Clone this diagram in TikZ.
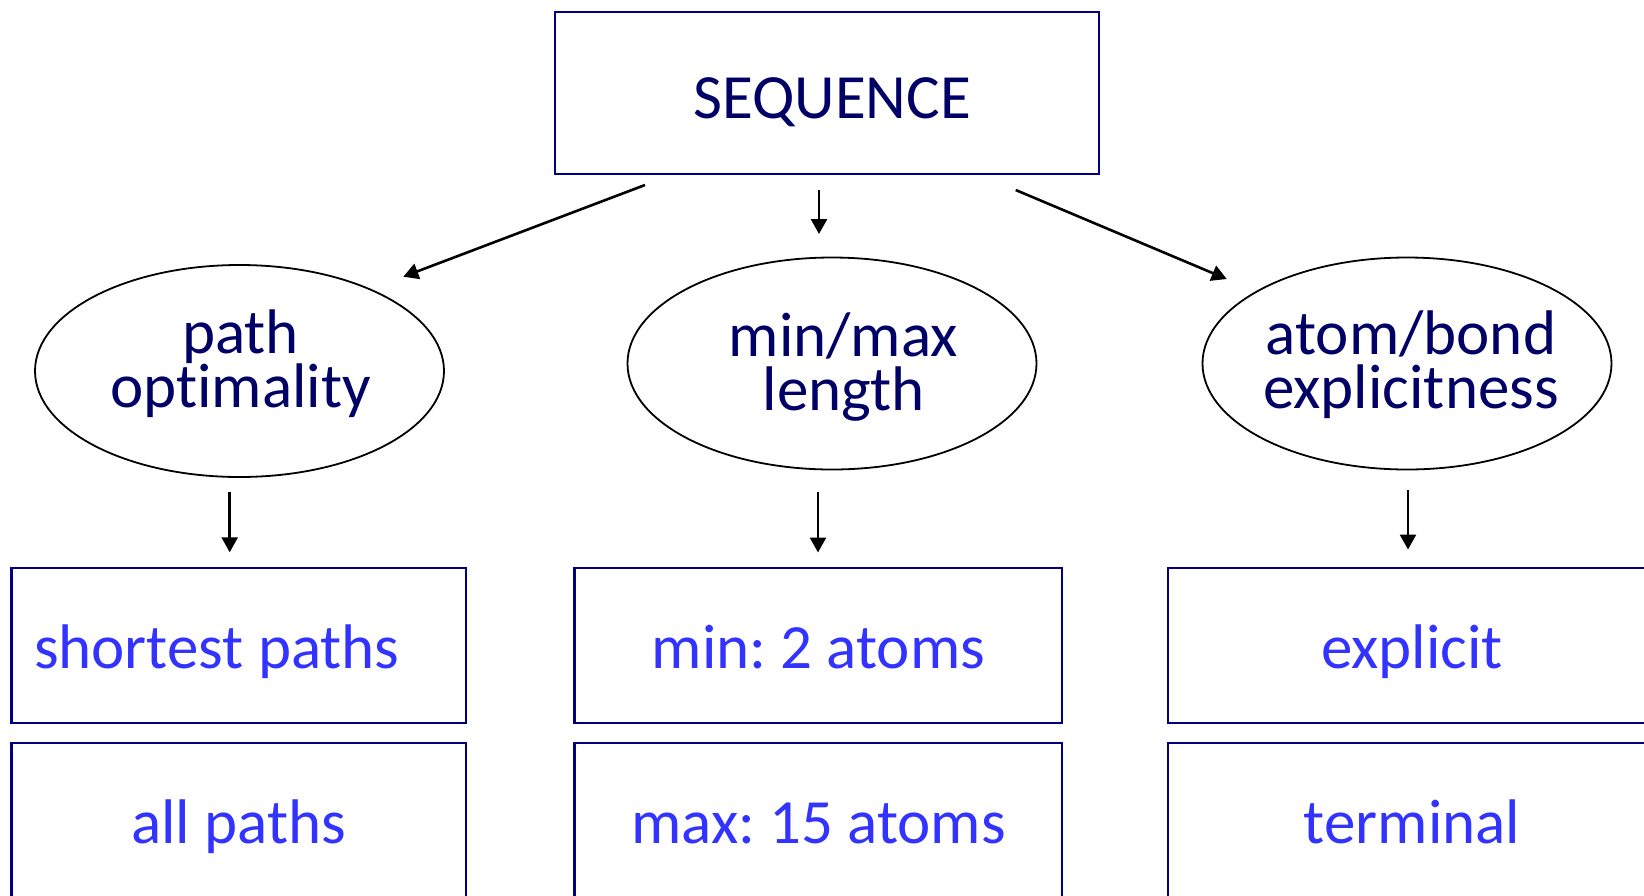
\documentclass[tikz,border=0pt]{standalone}
\usepackage{fontspec}
\setmainfont[Ligatures={NoCommon}]{Carlito}
\usetikzlibrary{arrows.meta,shapes.geometric}

\definecolor{titlenavy}{RGB}{0,0,102}
\definecolor{framenavy}{RGB}{0,0,128}
\definecolor{choiceblue}{RGB}{51,51,255}

% two centred lines with a fixed baseline distance; baseline = first line
\newcommand{\twolines}[2]{\vtop{\lineskiplimit=-100pt\baselineskip=27pt
  \halign{\hfil##\hfil\cr #1\cr #2\cr}}}
% text centred on the node, moved sideways by half of #1
\newcommand{\placed}[2]{\makebox[0pt]{\hspace*{#1}#2}}

\frenchspacing
\begin{document}
\begin{tikzpicture}[x=0.5pt,y=-0.5pt,
  every node/.style={font=\fontsize{31.5pt}{27pt}\selectfont, inner sep=0pt},
  topbox/.style={draw=framenavy, line width=1.1pt, text=titlenavy,
    minimum width=272pt, minimum height=81pt, text height=25pt, text depth=0pt},
  choicebox/.style={draw=framenavy, line width=1.2pt, text=choiceblue,
    minimum height=77.6pt, text height=22.6pt, text depth=0pt},
  oval/.style={ellipse, draw=black, line width=0.9pt, text=titlenavy,
    minimum width=204.5pt, minimum height=106pt, text height=0pt, text depth=#1},
  arr/.style={line width=1.3pt, -{Triangle[length=7.5pt,width=8pt]}}]

\clip (0,0) rectangle (1644,895);
\useasboundingbox (0,0) rectangle (1644,895);

% root
\node[topbox] (seq) at (826.8,93.3) {\placed{5.5pt}{SEQUENCE}};

% criteria
\node[oval=18pt] (opt) at (239.5,371) {\placed{1pt}{\twolines{path}{optimality}}};
\node[oval=6.7pt] (len) at (832,363.5) {\placed{11.5pt}{\twolines{min/max}{length}}};
\node[oval=9.5pt] (exp) at (1407,363.5) {\placed{4pt}{\twolines{atom/bond}{explicitness}}};

% options
\node[choicebox, minimum width=227.2pt] (shortest) at (238.8,645.4) {\placed{-22pt}{shortest paths}};
\node[choicebox, minimum width=227.2pt] (allp) at (238.8,820.5) {\placed{0pt}{all paths}};
\node[choicebox, minimum width=243.8pt] (minlen) at (818.4,645.4) {\placed{0pt}{min: 2 atoms}};
\node[choicebox, minimum width=243.8pt] (maxlen) at (818.4,820.5) {\placed{0pt}{max: 15 atoms}};
\node[choicebox, minimum width=244pt] (explicit) at (1412,645.4) {\placed{0pt}{explicit}};
\node[choicebox, minimum width=244pt] (terminal) at (1412,820.5) {\placed{0pt}{terminal}};

% arrow ends
\coordinate (s1) at (645,185);    \coordinate (h1) at (403.3,276.7);
\coordinate (s2) at (819,190);    \coordinate (h2) at (819,234);
\coordinate (s3) at (1015.7,190); \coordinate (h3) at (1226.7,279);
\coordinate (s4) at (229.7,492);  \coordinate (h4) at (229.7,552.3);
\coordinate (s5) at (818,492);    \coordinate (h5) at (818,552.5);
\coordinate (s6) at (1408,490);   \coordinate (h6) at (1408,549.5);

\draw[arr] (s1) -- (h1);
\draw[arr] (s2) -- (h2);
\draw[arr] (s3) -- (h3);
\draw[arr] (s4) -- (h4);
\draw[arr] (s5) -- (h5);
\draw[arr] (s6) -- (h6);
\end{tikzpicture}
\end{document}
